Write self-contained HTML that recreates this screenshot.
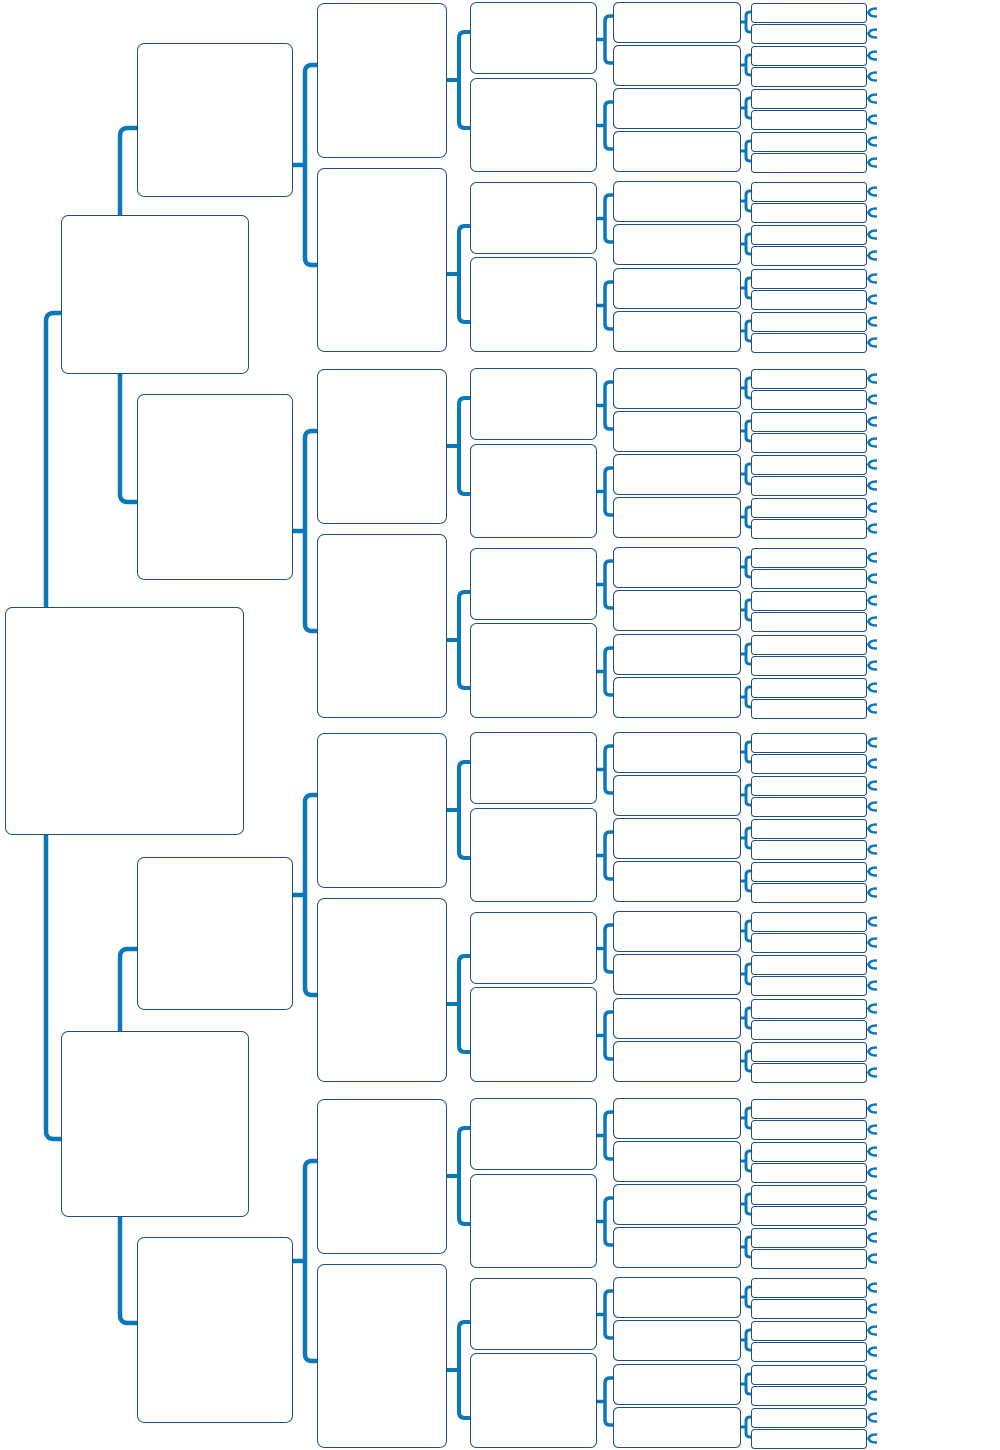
<!DOCTYPE html>
<html><head><meta charset="utf-8"><style>
html,body{margin:0;padding:0;background:#fff;width:1000px;height:1450px;overflow:hidden}
svg{display:block}
</style></head><body>
<svg id="s" width="1000" height="1450" xmlns="http://www.w3.org/2000/svg"></svg>
<script>
var s=document.getElementById('s'),C='#0a78ba',B='#1f4f85',out='';
function br(x,y1,y2,xe,xs,w,r){r=r||6;var m=(y1+y2)/2;
 out+='<path d="M'+xe+' '+y1+' H'+(x+r)+' Q'+x+' '+y1+' '+x+' '+(y1+r)+' V'+(y2-r)+' Q'+x+' '+y2+' '+(x+r)+' '+y2+' H'+xe+'" fill="none" stroke="'+C+'" stroke-width="'+w+'"/>';
 if(xs!=null) out+='<line x1="'+xs+'" y1="'+m+'" x2="'+x+'" y2="'+m+'" stroke="'+C+'" stroke-width="'+w+'"/>';}
var boxes='';
function bx(x1,y1,x2,y2,r){boxes+='<rect x="'+(x1+.5)+'" y="'+(y1+.5)+'" width="'+(x2-x1)+'" height="'+(y2-y1)+'" rx="'+r+'" fill="#fff" stroke="'+B+'" stroke-width="1"/>';}
br(46,313,1139,61,null,4.5,8);
br(120,128,502,137,null,4.5,8);
br(120,949,1323,137,null,4.5,8);
bx(5,607,243,834,7);
bx(61,215,248,373,7);bx(61,1031,248,1216,7);
bx(137,43,292,196,7);bx(137,394,292,579,7);bx(137,857,292,1009,7);bx(137,1237,292,1422,7);
var G=[2,368,732,1098];
G.forEach(function(s0){
 br(305,s0+63,s0+263,317,292,4.5,7);
 bx(317,s0+1,446,s0+155,7);bx(317,s0+166,446,s0+349,7);
 br(459,s0+30,s0+126,470,446,4,6);br(459,s0+224,s0+320,470,446,4,6);
 bx(470,s0,596,s0+71,6);bx(470,s0+76,596,s0+169,6);bx(470,s0+180,596,s0+251,6);bx(470,s0+255,596,s0+349,6);
 [0,86,179,266].forEach(function(o){var b=s0+o;
  br(605,b+14,b+61,613,596,3.5,5);
  [b,b+43].forEach(function(g){
   bx(613,g,740,g+40,5);
   br(746,g+10,g+30,751,740,3,4);
   [g+1,g+22].forEach(function(h){
    bx(751,h,866,h+19,3);
    var c=h+9.5;
    out+='<path d="M877 '+(c-4)+' Q869 '+(c-4)+' 869 '+c+' Q869 '+(c+4)+' 877 '+(c+4)+'" fill="none" stroke="'+C+'" stroke-width="2.5"/><line x1="866" y1="'+c+'" x2="869" y2="'+c+'" stroke="'+C+'" stroke-width="2"/>';
   });
  });
 });
});
s.innerHTML=out+boxes;
</script>
</body></html>
